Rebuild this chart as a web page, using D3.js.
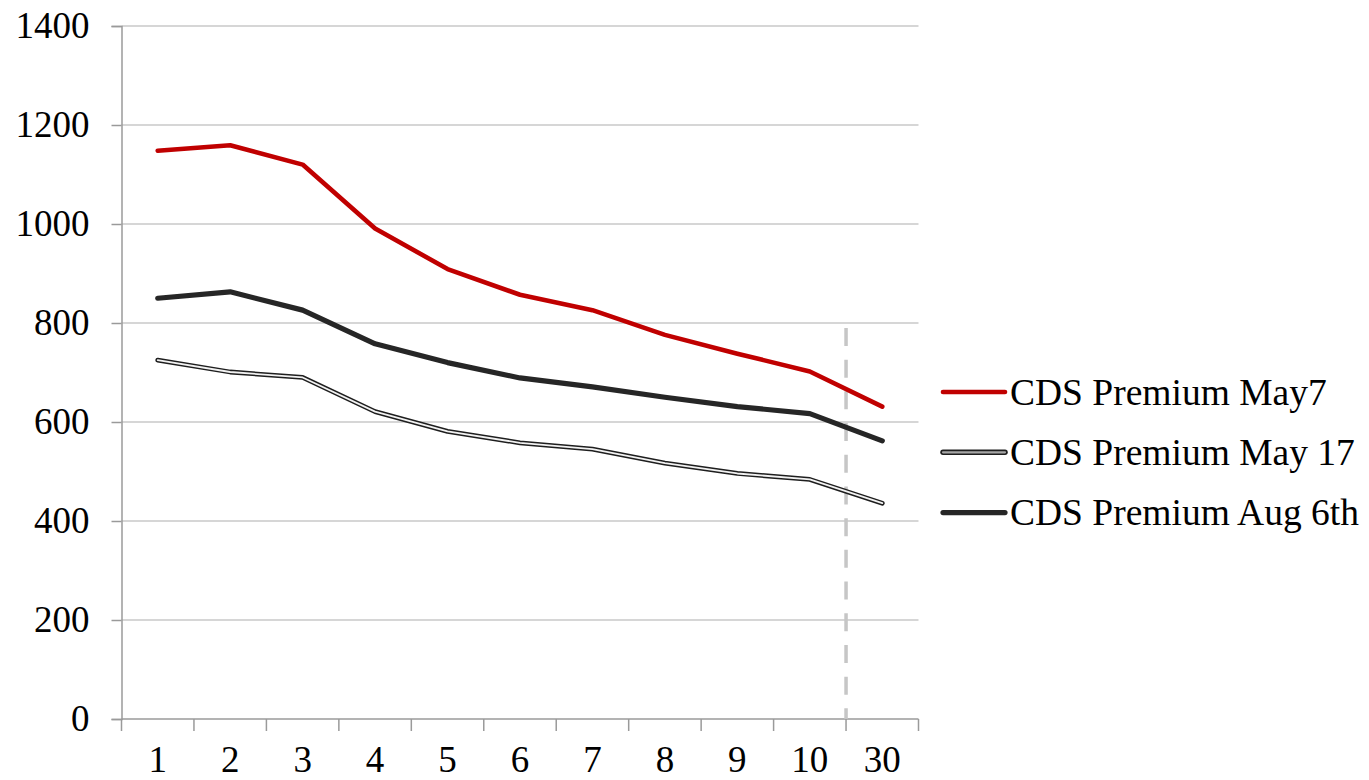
<!DOCTYPE html>
<html>
<head>
<meta charset="utf-8">
<script src="https://cdn.jsdelivr.net/npm/d3@7"></script>
<style>
  html, body { margin: 0; padding: 0; background: #fff; }
  svg { display: block; }
  text { font-family: "Liberation Serif", "Times New Roman", serif; fill: #000; }
</style>
</head>
<body>
<svg id="chart" width="1369" height="780"></svg>
<script>
// Maturities (years) on the x axis
const maturities = ["1", "2", "3", "4", "5", "6", "7", "8", "9", "10", "30"];

// CDS premium term structures (bp)
const may7  = [1148, 1159, 1120, 991, 909, 857, 826, 776, 738, 702, 631];
const may17 = [725, 701, 690, 621, 581, 558, 545, 517, 496, 484, 436];
const aug6  = [850, 863, 826, 758, 720, 689, 671, 650, 631, 617, 562];

const yTicks = [0, 200, 400, 600, 800, 1000, 1200, 1400];

const seriesNames = ["CDS Premium May7", "CDS Premium May 17", "CDS Premium Aug 6th"];

// Break marker between the 10y and 30y buckets
const breakTop = 790;

const svg = d3.select("#chart");
const margin = { left: 121.5, right: 918.5, top: 26, bottom: 719 };

const x = d3.scaleBand().domain(maturities).range([margin.left, margin.right]).padding(0);
const y = d3.scaleLinear().domain([0, 1400]).range([margin.bottom, margin.top]);
const cx = d => x(d) + x.bandwidth() / 2;

// Horizontal gridlines
svg.append("g")
  .selectAll("line")
  .data(yTicks.filter(t => t > 0))
  .join("line")
  .attr("x1", margin.left).attr("x2", margin.right)
  .attr("y1", d => y(d)).attr("y2", d => y(d))
  .attr("stroke", "#c9c9c9").attr("stroke-width", 1.3);

// Y axis
const yAxis = d3.axisLeft(y).tickValues(yTicks).tickSize(10).tickPadding(22).tickFormat(d3.format("d"));
const gy = svg.append("g").attr("transform", `translate(${margin.left},0)`).call(yAxis);
gy.select(".domain").attr("stroke", "#9a9a9a").attr("stroke-width", 1.5);
gy.selectAll(".tick line").attr("stroke", "#9a9a9a").attr("stroke-width", 1.5);
gy.selectAll(".tick text")
  .style("font-family", '"Liberation Serif", "Times New Roman", serif')
  .style("font-size", "37px").attr("fill", "#000");

// X axis: ticks fall on band boundaries, labels at band centres
const bounds = maturities.map(d => x(d)).concat([margin.right]);
const gx = svg.append("g");
gx.append("line")
  .attr("x1", margin.left).attr("x2", margin.right)
  .attr("y1", margin.bottom).attr("y2", margin.bottom)
  .attr("stroke", "#9a9a9a").attr("stroke-width", 1.5);
gx.selectAll("line.tk")
  .data(bounds)
  .join("line").attr("class", "tk")
  .attr("x1", d => d).attr("x2", d => d)
  .attr("y1", margin.bottom).attr("y2", margin.bottom + 12)
  .attr("stroke", "#9a9a9a").attr("stroke-width", 1.5);
gx.selectAll("text")
  .data(maturities)
  .join("text")
  .attr("x", d => cx(d))
  .attr("y", margin.bottom + 53)
  .attr("text-anchor", "middle")
  .style("font-size", "37px")
  .text(d => d);

// Dashed separator between 10y and 30y
svg.append("line")
  .attr("x1", x("30")).attr("x2", x("30"))
  .attr("y1", y(breakTop)).attr("y2", y(0))
  .attr("stroke", "#c6c6c6").attr("stroke-width", 3.5)
  .attr("stroke-dasharray", "18,13.7");

const line = d3.line().x((d, i) => cx(maturities[i])).y(d => y(d));

function drawSeries(values, style) {
  if (style.outline) {
    svg.append("path").datum(values).attr("d", line)
      .attr("fill", "none").attr("stroke", "#1e1e1e").attr("stroke-width", 4.8)
      .attr("stroke-linejoin", "round").attr("stroke-linecap", "round");
    svg.append("path").datum(values).attr("d", line)
      .attr("fill", "none").attr("stroke", "#f2f2f2").attr("stroke-width", 1.8)
      .attr("stroke-linejoin", "round").attr("stroke-linecap", "round");
  } else {
    svg.append("path").datum(values).attr("d", line)
      .attr("fill", "none").attr("stroke", style.color).attr("stroke-width", style.width)
      .attr("stroke-linejoin", "round").attr("stroke-linecap", "round");
  }
}

drawSeries(may17, { outline: true });
drawSeries(aug6, { color: "#262626", width: 5.2 });
drawSeries(may7, { color: "#c00000", width: 4.6 });

// Legend
const legendStyles = [
  { color: "#c00000", width: 4.6 },
  { outline: true, inner: "#a6a6a6" },
  { color: "#262626", width: 5.2 }
];
const legend = svg.append("g");
seriesNames.forEach((name, i) => {
  const ly = 392 + i * 60.3;
  const st = legendStyles[i];
  if (st.outline) {
    legend.append("line").attr("x1", 943).attr("x2", 1005).attr("y1", ly).attr("y2", ly)
      .attr("stroke", "#1e1e1e").attr("stroke-width", 5.5).attr("stroke-linecap", "round");
    legend.append("line").attr("x1", 943).attr("x2", 1005).attr("y1", ly).attr("y2", ly)
      .attr("stroke", st.inner).attr("stroke-width", 2.2).attr("stroke-linecap", "round");
  } else {
    legend.append("line").attr("x1", 943).attr("x2", 1005).attr("y1", ly).attr("y2", ly)
      .attr("stroke", st.color).attr("stroke-width", st.width).attr("stroke-linecap", "round");
  }
  legend.append("text")
    .attr("x", 1010).attr("y", ly).attr("dy", "0.34em")
    .style("font-size", "37.5px")
    .text(name);
});
</script>
</body>
</html>
